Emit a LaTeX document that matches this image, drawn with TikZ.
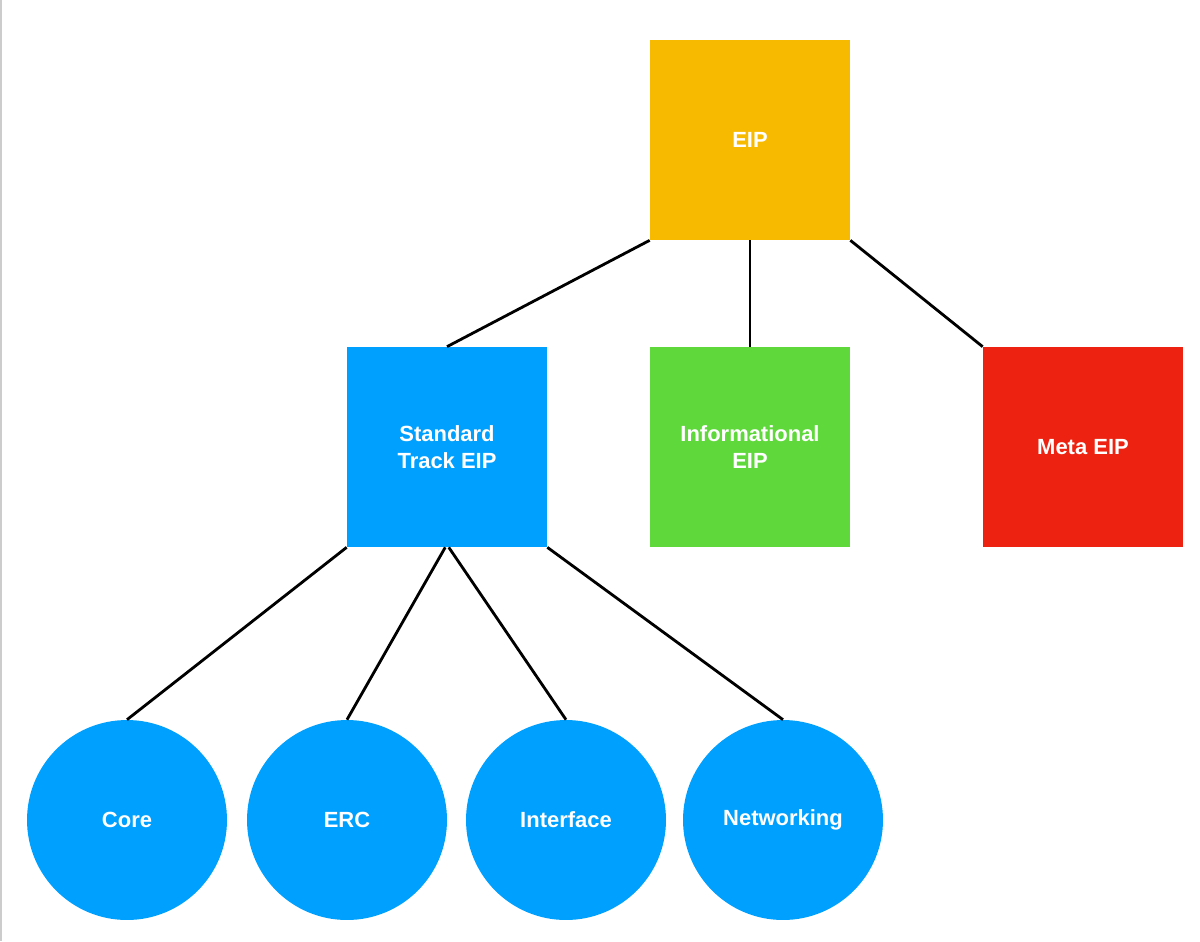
\documentclass[tikz,border=0pt]{standalone}
\usepackage{fontspec}
\setmainfont{Liberation Sans}
\definecolor{eipy}{RGB}{248, 186, 0}
\definecolor{eipb}{RGB}{0, 160, 255}
\definecolor{eipg}{RGB}{94, 216, 58}
\definecolor{eipr}{RGB}{238, 34, 16}
\tikzset{
    box/.style={draw=none, minimum size=4cm, inner sep=0pt, align=center,
        text=white, font=\fontsize{12.5}{15}\selectfont\bfseries},
    leaf/.style={circle, fill=eipb, minimum size=4cm, inner sep=0pt,
        text=white, font=\fontsize{12.5}{15}\selectfont\bfseries},
    link/.style={line width=1.6pt, black}
}
\begin{document}
\begin{tikzpicture}[x=0.02cm, y=-0.02cm]
    \useasboundingbox (0,0) rectangle (1200,941);
    \draw[black!20, line width=0.8pt] (1,0) -- (1,941);

    % Top level
    \node[box, fill=eipy] (eip) at (750,140) {EIP};

    % Second level
    \node[box, fill=eipb] (std) at (447,447) {Standard\\Track EIP};
    \node[box, fill=eipg] (info) at (750,447) {Informational\\EIP};
    \node[box, fill=eipr] (meta) at (1083,447) {Meta EIP};

    % Leaves
    \node[leaf] (core) at (127,820) {Core};
    \node[leaf] (erc) at (347,820) {ERC};
    \node[leaf] (iface) at (566,820) {Interface};
    \node[leaf] (net) at (783,820) {Networking};

    % Links
    \draw[link] (eip.south west) -- (std.north);
    \draw[link] (eip.south) -- (info.north);
    \draw[link] (eip.south east) -- (meta.north west);
    \draw[link] (std.south west) -- (core.north);
    \draw[link] ([xshift=-1pt]std.south) -- (erc.north);
    \draw[link] ([xshift=1pt]std.south) -- (iface.north);
    \draw[link] (std.south east) -- (net.north);
\end{tikzpicture}
\end{document}
